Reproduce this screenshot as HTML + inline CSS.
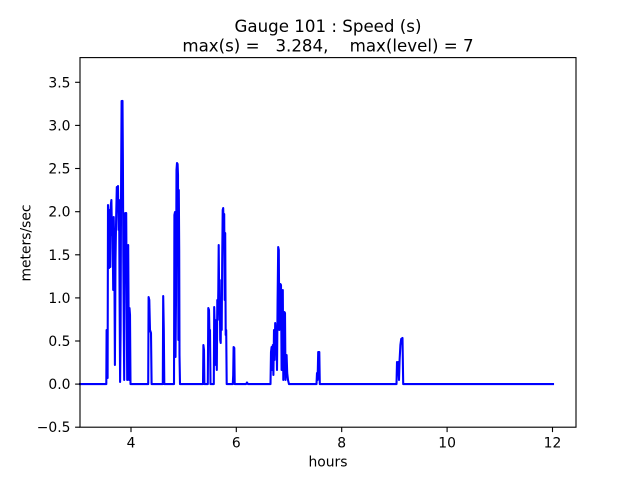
<!DOCTYPE html>
<html>
<head>
<meta charset="utf-8">
<style>
html,body{margin:0;padding:0;background:#fff;}
svg{display:block;}
text{font-family:"DejaVu Sans","Liberation Sans",sans-serif;fill:#000;}
</style>
</head>
<body>
<svg width="640" height="480" viewBox="0 0 640 480" xmlns="http://www.w3.org/2000/svg">
<rect x="0" y="0" width="640" height="480" fill="#fff"/>

<!-- series -->
<polyline fill="none" stroke="#0000ff" stroke-width="2.08" stroke-linejoin="round" stroke-linecap="square" points="
80,384.1 106.3,384.1 106.6,330 107,372 107.6,378 108,205 108.6,215 109.1,268 109.6,210 110.3,267 110.8,205 111.4,200 112,235 112.6,225 113.2,290 113.7,217 114.3,250 114.9,365 115.5,260 116.2,215 116.8,187 117.4,195 118,186 118.6,230 119.1,200 119.6,300 120.1,382 120.6,330 121.1,180 121.6,101 122.5,100.9 122.9,160 123.3,257 123.8,330 124.2,380 124.7,225 125.2,213 125.7,260 126.2,213 126.7,300 127.2,380 127.7,260 128.2,245 128.7,330 129.1,380 129.5,308 130,315 130.5,384.1
148.2,384.1 148.6,297 149.3,300 150,330 151,333 151.6,384.1
162.8,384.1 163.2,296 163.8,330 164.3,384.1
174,384.1 174.4,215 175,212 175.5,357 176,300 176.5,170 177,163 177.6,164 178,175 178.4,340 178.8,190 179.2,250 179.5,355 180,384.1
203,384.1 203.4,345 204,350 204.4,384.1
207.8,384.1 208.3,308 209,310 209.5,335 210,330 210.5,384.1
213.8,384.1 214.2,307 214.8,330 215.3,320 215.8,365 216.3,340 216.8,370 217.3,300 217.8,320 218.3,290 218.7,245 219.2,300 219.7,280 220.2,340 220.7,343 221.2,300 221.7,330 222.2,260 222.7,210 223.2,208 223.7,230 224.2,214 224.7,300 225.2,233 225.7,335 226.2,330 226.7,384.1
232.8,384.1 233.2,375 233.6,347 234.3,348 234.7,384.1
246,384.1 247,382.5 248,384.1
270.5,384.1 271,352 271.6,347 272.2,370 272.8,345 273.4,375 274,330 274.6,360 275.2,323 275.8,340 276.4,330 277,370 277.6,300 278.2,247 278.8,250 279.3,330 279.8,290 280.4,284 281,285 281.6,370 282.2,300 282.8,290 283.3,380 283.8,340 284.4,312 285,313 285.5,380 286,370 286.6,355 287.2,373 288,380 289,384.1
316.5,384.1 317,373 317.6,380 318.2,352 319.3,352 319.8,384.1
396.5,384.1 397,362 397.6,370 398.2,362 399,380 399.6,360 400.4,345 401.2,339 402.5,338 403.2,384.1 553,384.1"/>

<!-- axes frame -->
<rect x="80" y="57.6" width="496" height="369.6" fill="none" stroke="#000" stroke-width="1.11"/>

<!-- x ticks -->
<g stroke="#000" stroke-width="1.11">
<line x1="131" y1="427.2" x2="131" y2="432.1"/>
<line x1="236.3" y1="427.2" x2="236.3" y2="432.1"/>
<line x1="341.7" y1="427.2" x2="341.7" y2="432.1"/>
<line x1="447.1" y1="427.2" x2="447.1" y2="432.1"/>
<line x1="552.5" y1="427.2" x2="552.5" y2="432.1"/>
</g>
<g font-size="13.89" text-anchor="middle">
<text x="131" y="447.7">4</text>
<text x="236.3" y="447.7">6</text>
<text x="341.7" y="447.7">8</text>
<text x="447.1" y="447.7">10</text>
<text x="552.5" y="447.7">12</text>
</g>

<!-- y ticks -->
<g stroke="#000" stroke-width="1.11">
<line x1="75.1" y1="427.2" x2="80" y2="427.2"/>
<line x1="75.1" y1="384.1" x2="80" y2="384.1"/>
<line x1="75.1" y1="341" x2="80" y2="341"/>
<line x1="75.1" y1="297.9" x2="80" y2="297.9"/>
<line x1="75.1" y1="254.8" x2="80" y2="254.8"/>
<line x1="75.1" y1="211.7" x2="80" y2="211.7"/>
<line x1="75.1" y1="168.5" x2="80" y2="168.5"/>
<line x1="75.1" y1="125.4" x2="80" y2="125.4"/>
<line x1="75.1" y1="82.3" x2="80" y2="82.3"/>
</g>
<g font-size="13.89" text-anchor="end">
<text x="70.5" y="432.2">−0.5</text>
<text x="70.5" y="389.1">0.0</text>
<text x="70.5" y="346">0.5</text>
<text x="70.5" y="302.9">1.0</text>
<text x="70.5" y="259.8">1.5</text>
<text x="70.5" y="216.7">2.0</text>
<text x="70.5" y="173.5">2.5</text>
<text x="70.5" y="130.4">3.0</text>
<text x="70.5" y="87.3">3.5</text>
</g>

<!-- axis labels -->
<text x="328" y="466.5" font-size="13.89" text-anchor="middle">hours</text>
<text transform="translate(30.5,243) rotate(-90)" font-size="13.89" text-anchor="middle">meters/sec</text>

<!-- title -->
<g font-size="16.67" text-anchor="middle" style="white-space:pre">
<text x="328" y="32.2">Gauge 101 : Speed (s)</text>
<text x="328" y="51.5" xml:space="preserve">max(s) =   3.284,    max(level) = 7</text>
</g>
</svg>
</body>
</html>
